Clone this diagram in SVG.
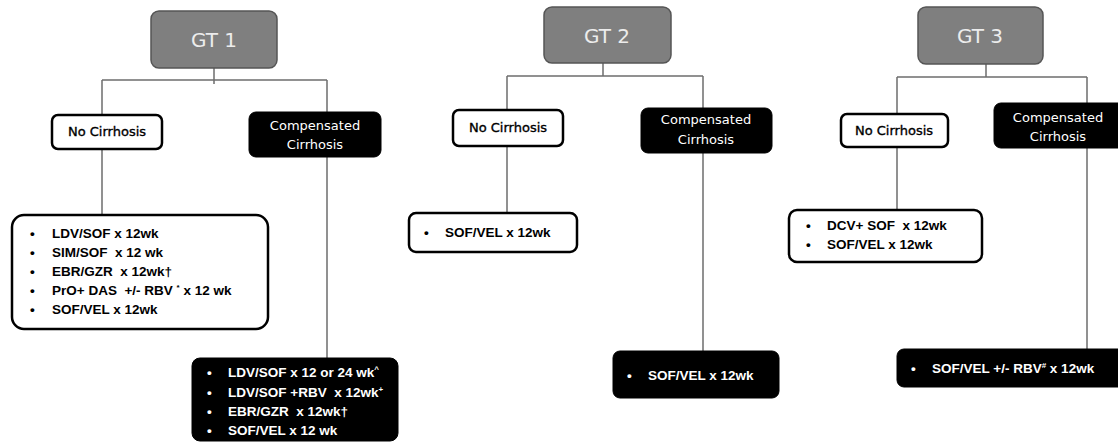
<svg xmlns="http://www.w3.org/2000/svg" width="1118" height="444" viewBox="0 0 1118 444">
<style>
.gt{fill:#7f7f7f;stroke:#555;stroke-width:1.5}
.gtt{font-family:"DejaVu Sans",sans-serif;font-size:20px;fill:#ececec;text-anchor:middle}
.nc{fill:#fff;stroke:#000;stroke-width:2.5}
.cc{fill:#000;stroke:#000;stroke-width:1}
.lbl{font-family:"DejaVu Sans",sans-serif;font-size:13px;text-anchor:middle}
.lk{fill:#000;stroke:#000;stroke-width:0.35}
.tx{font-family:"Liberation Sans",Arial,sans-serif;font-size:13.5px;font-weight:bold}
.w{fill:#fff}
.k{fill:#000}
.sup{font-size:8px}
.ln{stroke:#6e6e6e;stroke-width:1.5;fill:none}
</style>
<rect width="1118" height="444" fill="#fff"/>
<g id="connectors">
<path class="ln" d="M214 68V84M102 80H327M102 80V115M327 80V112M102 149V215M327 157V358"/>
<path class="ln" d="M603 63V76M507 76H703M507 76V110M703 76V108M507 146V213M703 153V351"/>
<path class="ln" d="M986 64V77M897 77H1087M897 77V114M1087 77V103M897 147V210M1087 148V349"/>
</g>
<g id="gt1">
<rect class="gt" x="151" y="11" width="126" height="57" rx="8"/>
<text class="gtt" x="214" y="47">GT 1</text>
</g>
<g id="gt1-nocirrhosis">
<rect class="nc" x="52" y="115" width="110" height="34" rx="6"/>
<text class="lbl lk" x="107" y="136">No Cirrhosis</text>
</g>
<g id="gt1-compensated">
<rect class="cc" x="249" y="112" width="132" height="45" rx="7"/>
<text class="lbl w" x="315" y="130">Compensated</text>
<text class="lbl w" x="315" y="149">Cirrhosis</text>
</g>
<g id="gt1-nocirrhosis-tx">
<rect class="nc" x="12" y="215" width="256" height="114" rx="12"/>
<g class="tx k">
<text x="30" y="238">•</text><text x="52" y="238">LDV/SOF x 12wk</text>
<text x="30" y="257">•</text><text x="52" y="257">SIM/SOF&#160; x 12 wk</text>
<text x="30" y="276">•</text><text x="52" y="276">EBR/GZR&#160; x 12wk†</text>
<text x="30" y="295">•</text><text x="52" y="295">PrO+ DAS&#160; +/- RBV <tspan class="sup" dy="-5">*</tspan><tspan dy="5"> x 12 wk</tspan></text>
<text x="30" y="314">•</text><text x="52" y="314">SOF/VEL x 12wk</text>
</g>
</g>
<g id="gt1-compensated-tx">
<rect class="cc" x="192" y="358" width="206" height="83" rx="8"/>
<g class="tx w">
<text x="207" y="377">•</text><text x="228" y="377">LDV/SOF x 12 or 24 wk<tspan class="sup" dy="-5">^</tspan></text>
<text x="207" y="397">•</text><text x="228" y="397">LDV/SOF +RBV&#160; x 12wk<tspan class="sup" dy="-5">+</tspan></text>
<text x="207" y="416">•</text><text x="228" y="416">EBR/GZR&#160; x 12wk†</text>
<text x="207" y="435">•</text><text x="228" y="435">SOF/VEL x 12 wk</text>
</g>
</g>
<g id="gt2">
<rect class="gt" x="544" y="7" width="127" height="56" rx="8"/>
<text class="gtt" x="607" y="43">GT 2</text>
</g>
<g id="gt2-nocirrhosis">
<rect class="nc" x="453" y="110" width="110" height="36" rx="6"/>
<text class="lbl lk" x="508" y="132">No Cirrhosis</text>
</g>
<g id="gt2-compensated">
<rect class="cc" x="641" y="108" width="131" height="45" rx="7"/>
<text class="lbl w" x="706" y="124">Compensated</text>
<text class="lbl w" x="706" y="144">Cirrhosis</text>
</g>
<g id="gt2-nocirrhosis-tx">
<rect class="nc" x="409" y="213" width="168" height="39" rx="7"/>
<g class="tx k">
<text x="424" y="237">•</text><text x="445" y="237">SOF/VEL x 12wk</text>
</g>
</g>
<g id="gt2-compensated-tx">
<rect class="cc" x="613" y="351" width="166" height="47" rx="7"/>
<g class="tx w">
<text x="627" y="380">•</text><text x="648" y="380">SOF/VEL x 12wk</text>
</g>
</g>
<g id="gt3">
<rect class="gt" x="918" y="7" width="125" height="57" rx="8"/>
<text class="gtt" x="980" y="43">GT 3</text>
</g>
<g id="gt3-nocirrhosis">
<rect class="nc" x="841" y="114" width="107" height="33" rx="6"/>
<text class="lbl lk" x="894" y="135">No Cirrhosis</text>
</g>
<g id="gt3-compensated">
<rect class="cc" x="994" y="103" width="132" height="45" rx="7"/>
<text class="lbl w" x="1058" y="122">Compensated</text>
<text class="lbl w" x="1058" y="141">Cirrhosis</text>
</g>
<g id="gt3-nocirrhosis-tx">
<rect class="nc" x="789" y="210" width="193" height="52" rx="8"/>
<g class="tx k">
<text x="806" y="230">•</text><text x="827" y="230">DCV+ SOF&#160; x 12wk</text>
<text x="806" y="249">•</text><text x="827" y="249">SOF/VEL x 12wk</text>
</g>
</g>
<g id="gt3-compensated-tx">
<rect class="cc" x="897" y="349" width="230" height="38" rx="7"/>
<g class="tx w">
<text x="911" y="373">•</text><text x="932" y="373">SOF/VEL +/- RBV<tspan class="sup" dy="-5">#</tspan><tspan dy="5"> x 12wk</tspan></text>
</g>
</g>
</svg>
